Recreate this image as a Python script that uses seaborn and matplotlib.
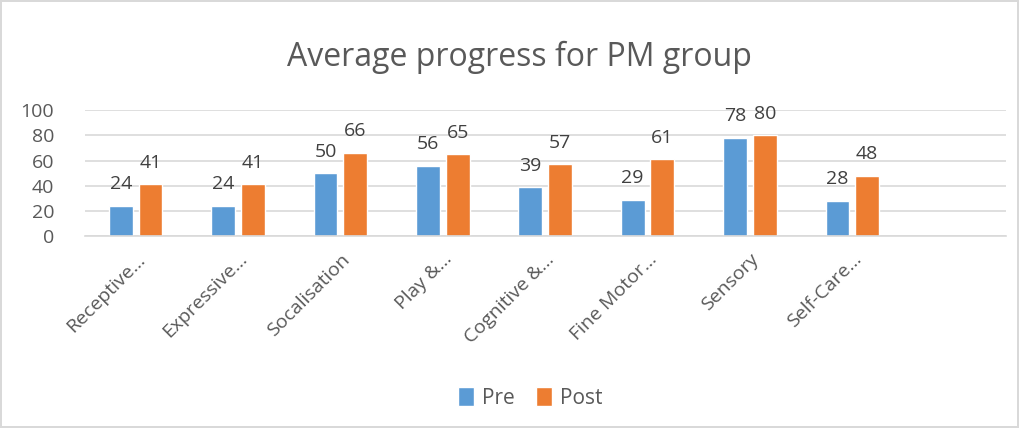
import matplotlib
matplotlib.use("Agg")
import matplotlib.pyplot as plt
import seaborn as sns
import pandas as pd

categories = ["Receptive...", "Expressive...", "Socalisation", "Play &...",
              "Cognitive &...", "Fine Motor...", "Sensory", "Self-Care..."]
pre_values = [24, 24, 50, 56, 39, 29, 78, 28]
post_values = [41, 41, 66, 65, 57, 61, 80, 48]
series = ["Pre", "Post"]

df = pd.DataFrame({
    "category": categories * 2,
    "score": pre_values + post_values,
    "phase": ["Pre"] * len(categories) + ["Post"] * len(categories),
})

sns.set_theme(style="white")
plt.rcParams["font.family"] = ["Open Sans", "DejaVu Sans"]
text_color = "#595959"

fig = plt.figure(figsize=(10.19, 4.28), dpi=100)
ax = fig.add_axes([0.083, 0.448, 0.904, 0.295])

sns.barplot(data=df, x="category", y="score", hue="phase", hue_order=series,
            palette=["#5B9BD5", "#ED7D31"], saturation=1, width=0.58, gap=0.2,
            order=categories, ax=ax, legend=True)

for container in ax.containers:
    ax.bar_label(container, fmt="%d", padding=9, fontsize=14, color="#404040")

ax.set_xlim(-0.5, len(categories) + 0.5)
ax.set_ylim(0, 100)
ax.set_yticks(range(0, 101, 20))
ax.yaxis.grid(True, color="#D9D9D9", linewidth=1.2)
ax.set_axisbelow(True)
for side in ["top", "right", "left"]:
    ax.spines[side].set_visible(False)
ax.spines["bottom"].set_color("#D9D9D9")
ax.spines["bottom"].set_linewidth(1.2)
ax.tick_params(axis="both", length=0, colors=text_color, labelsize=14)
ax.tick_params(axis="y", pad=22)
ax.tick_params(axis="x", pad=10)
plt.setp(ax.get_xticklabels(), rotation=45, ha="right", rotation_mode="anchor")
ax.set_xlabel("")
ax.set_ylabel("")

fig.suptitle("Average progress for PM group", fontsize=23, color=text_color,
             x=0.51, y=0.905)

leg = ax.legend(loc="center", bbox_to_anchor=(0.484, -1.28), ncol=2,
                frameon=False, fontsize=15, handlelength=0.75, handleheight=1.0,
                handletextpad=0.4, columnspacing=1.0)
for t in leg.get_texts():
    t.set_color(text_color)

fig.patch.set_edgecolor("#D9D9D9")
fig.patch.set_linewidth(1.5)

fig.savefig("out.png", dpi=100, edgecolor=fig.get_edgecolor())
